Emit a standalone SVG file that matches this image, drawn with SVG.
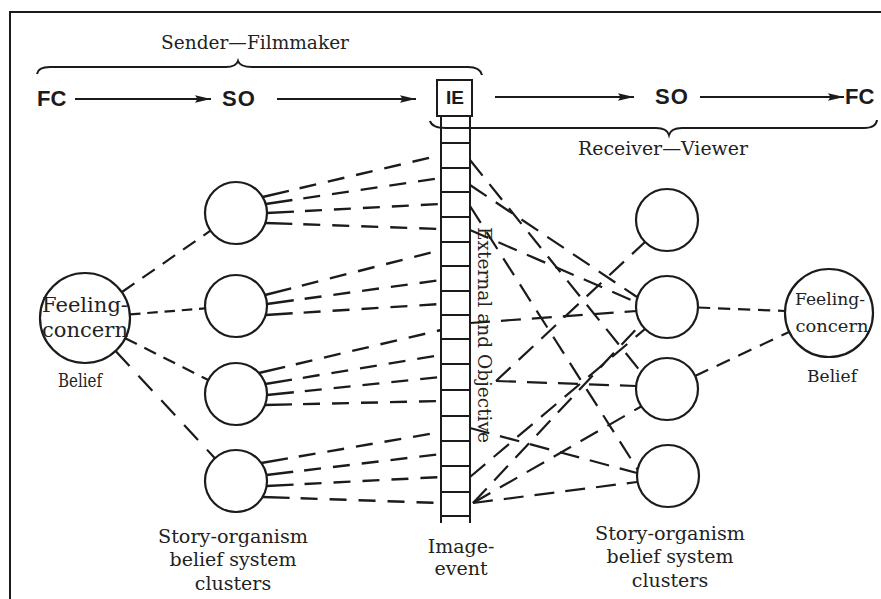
<svg xmlns="http://www.w3.org/2000/svg" width="881" height="599" viewBox="0 0 881 599">
<defs>
<marker id="ah" markerUnits="userSpaceOnUse" markerWidth="17" markerHeight="9" refX="16" refY="4.5" orient="auto">
<path d="M0,0.8 L16,4.5 L0,8.2 L2.5,4.5 z" fill="#1b1b1b"/>
</marker>
<style>
.ser{font-family:"DejaVu Serif","Liberation Serif",serif;fill:#222}
.sans{font-family:"Liberation Sans",Arial,sans-serif;font-weight:bold;fill:#1b1b1b}
.ln{stroke:#1b1b1b;fill:none;stroke-width:2}
.circ{fill:#fff;stroke:#1b1b1b;stroke-width:2.2}
.arrow{stroke:#1b1b1b;stroke-width:2;marker-end:url(#ah)}
.fan{stroke:#1b1b1b;stroke-width:2.4;fill:none;stroke-dasharray:27 11 17 12 17 12 17 12 17 12 17 12 17 12 17 12}
.cross{stroke:#1b1b1b;stroke-width:2.2;fill:none;stroke-dasharray:20 11}
.fcl{stroke:#1b1b1b;stroke-width:2.2;fill:none;stroke-dasharray:14 9 14 9 14 9 14 9 8}
</style>
</defs>
<rect width="881" height="599" fill="#fff"/>
<path d="M10,599 V12 H881" class="ln" stroke-width="2.5"/>

<!-- header: sender side -->
<g id="sender">
<text class="ser" x="161" y="49" font-size="19" textLength="188" lengthAdjust="spacingAndGlyphs">Sender—Filmmaker</text>
<path class="ln" stroke-width="2.4" d="M37,74 Q38,67 50,67 L226,67 Q236,67 238,61 Q240,67 252,67 L468,67 Q480,67 482,75"/>
</g>
<g id="flow">
<text class="sans" x="37" y="106" font-size="22">FC</text>
<line class="arrow" x1="75" y1="99" x2="211" y2="99"/>
<text class="sans" x="222" y="106" font-size="22" letter-spacing="1">SO</text>
<line class="arrow" x1="277" y1="99" x2="416" y2="99"/>
<line class="arrow" x1="495" y1="97" x2="634" y2="97"/>
<text class="sans" x="655" y="104" font-size="22" letter-spacing="1">SO</text>
<line class="arrow" x1="700" y1="97" x2="844" y2="97"/>
<text class="sans" x="845" y="104" font-size="22">FC</text>
</g>
<!-- header: receiver side -->
<g id="receiver">
<text class="ser" x="578" y="155" font-size="19" textLength="170" lengthAdjust="spacingAndGlyphs">Receiver—Viewer</text>
</g>

<g id="connectors">
<!-- feeling-concern to sender clusters -->
<path class="fcl" pathLength="100" d="M122,292 L210.5,230.7"/>
<path class="fcl" pathLength="100" d="M130,314.4 L205,308.4"/>
<path class="fcl" pathLength="100" d="M125.2,338.2 L208.3,380"/>
<path class="fcl" pathLength="100" d="M115.6,351 L214.9,458.2"/>
<!-- sender clusters to image-event -->
<path class="fan" d="M262.6,197 L441,155"/>
<path class="fan" d="M265.7,204 L441,178"/>
<path class="fan" d="M267,213 L441,204"/>
<path class="fan" d="M265.3,223 L441,229"/>
<path class="fan" d="M265,295 L441,250"/>
<path class="fan" d="M267,304 L441,280"/>
<path class="fan" d="M265.7,315 L441,304"/>
<path class="fan" d="M258.8,373 L441,330"/>
<path class="fan" d="M265.3,384 L441,355"/>
<path class="fan" d="M267,395 L441,377"/>
<path class="fan" d="M265,405 L441,401"/>
<path class="fan" d="M261.3,463 L441,432"/>
<path class="fan" d="M266.4,475 L441,454"/>
<path class="fan" d="M266.6,486 L441,477"/>
<path class="fan" d="M262.6,497 L441,503"/>
<!-- image-event to receiver clusters -->
<path class="cross" d="M470,160 L641,372"/>
<path class="cross" d="M470,185 L637,297"/>
<path class="cross" d="M470,206 L638,470"/>
<path class="cross" d="M470,230 L636,302"/>
<path class="cross" d="M470,323 L637,311"/>
<path class="cross" d="M496,381 L645,242"/>
<path class="cross" d="M496,381 L636,386"/>
<path class="cross" d="M470,428 L637,473"/>
<path class="cross" d="M470,477 L645,329"/>
<path class="cross" d="M473,503 L641,324"/>
<path class="cross" d="M473,503 L642,406"/>
<path class="cross" d="M473,503 L637,482"/>
<!-- receiver clusters to feeling-concern -->
<path class="fcl" pathLength="100" d="M698,307.5 L785,311"/>
<path class="fcl" pathLength="100" d="M695,376 L789,332"/>
</g>

<g id="fc-sender">
<circle class="circ" cx="85" cy="318" r="45"/>
<text class="ser" x="85" y="312" font-size="20" text-anchor="middle" textLength="86" lengthAdjust="spacingAndGlyphs">Feeling-</text>
<text class="ser" x="85" y="337" font-size="20" text-anchor="middle" textLength="86" lengthAdjust="spacingAndGlyphs">concern</text>
<text class="ser" x="80" y="387" font-size="18" text-anchor="middle" textLength="44" lengthAdjust="spacingAndGlyphs">Belief</text>
</g>
<g id="so-sender-1"><circle class="circ" cx="236" cy="213" r="31"/></g>
<g id="so-sender-2"><circle class="circ" cx="236" cy="306" r="31"/></g>
<g id="so-sender-3"><circle class="circ" cx="236" cy="394" r="31"/></g>
<g id="so-sender-4"><circle class="circ" cx="236" cy="481" r="31"/></g>
<g id="so-sender-label">
<text class="ser" x="233" y="543" font-size="19" text-anchor="middle" textLength="150" lengthAdjust="spacingAndGlyphs">Story-organism</text>
<text class="ser" x="233" y="566" font-size="19" text-anchor="middle">belief system</text>
<text class="ser" x="233" y="590" font-size="19" text-anchor="middle">clusters</text>
</g>

<g id="image-event">
<rect x="437" y="80" width="35" height="36" fill="#fff" class="ln"/>
<text class="sans" x="455" y="104" font-size="19" text-anchor="middle">IE</text>
<path class="ln" d="M441,116 V523 M470,116 V523 M441,143 H470 M441,168 H470 M441,192 H470 M441,217 H470 M441,242 H470 M441,266 H470 M441,291 H470 M441,315 H470 M441,339 H470 M441,364 H470 M441,390 H470 M441,416 H470 M441,441 H470 M441,466 H470 M441,492 H470 M441,516 H470"/>
<text class="ser" font-size="19" transform="translate(478,227) rotate(90)" textLength="216" lengthAdjust="spacingAndGlyphs">External and Objective</text>
<text class="ser" x="461" y="553" font-size="19" text-anchor="middle">Image-</text>
<text class="ser" x="461" y="575" font-size="19" text-anchor="middle">event</text>
</g>
<path class="ln" stroke-width="2.4" d="M430,121 Q432,128 446,128 L656,128 Q667,128 669,135 Q671,128 682,128 L864,128 Q876,128 877,120"/>

<g id="so-receiver-1"><circle class="circ" cx="667" cy="220" r="31"/></g>
<g id="so-receiver-2"><circle class="circ" cx="667" cy="307" r="31"/></g>
<g id="so-receiver-3"><circle class="circ" cx="667" cy="389" r="31"/></g>
<g id="so-receiver-4"><circle class="circ" cx="668" cy="476" r="31"/></g>
<g id="so-receiver-label">
<text class="ser" x="670" y="540" font-size="19" text-anchor="middle" textLength="150" lengthAdjust="spacingAndGlyphs">Story-organism</text>
<text class="ser" x="670" y="563" font-size="19" text-anchor="middle">belief system</text>
<text class="ser" x="670" y="587" font-size="19" text-anchor="middle">clusters</text>
</g>
<g id="fc-receiver">
<circle class="circ" cx="829" cy="313" r="44"/>
<text class="ser" x="830" y="305" font-size="17" text-anchor="middle" textLength="70" lengthAdjust="spacingAndGlyphs">Feeling-</text>
<text class="ser" x="832" y="332" font-size="17" text-anchor="middle" textLength="73" lengthAdjust="spacingAndGlyphs">concern</text>
<text class="ser" x="832" y="382" font-size="17" text-anchor="middle" textLength="50" lengthAdjust="spacingAndGlyphs">Belief</text>
</g>
</svg>
